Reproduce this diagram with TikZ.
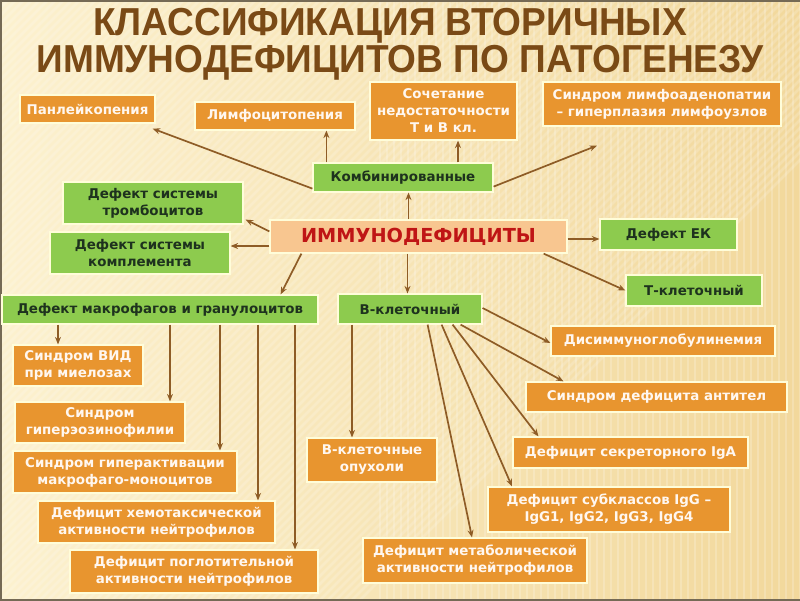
\documentclass[tikz,border=0pt]{standalone}
\usepackage{fontspec}
\setmainfont{DejaVu Sans}
\newfontfamily\titlefont[FakeStretch=0.95]{Liberation Sans}
\usetikzlibrary{arrows.meta, positioning, calc}
\definecolor{bgleft}{HTML}{FCF1CF}
\definecolor{bgright}{HTML}{F2D89C}
\definecolor{titlebrown}{HTML}{7A4A16}
\definecolor{orangebox}{HTML}{E8952F}
\definecolor{greenbox}{HTML}{8DCB4E}
\definecolor{mainbox}{HTML}{F8C690}
\definecolor{mainred}{HTML}{BF1515}
\definecolor{arrowc}{HTML}{8E5C26}
\definecolor{greentext}{HTML}{1E321E}
\definecolor{framec}{HTML}{756A55}

\begin{document}
\begin{tikzpicture}[x=1pt, y=-1pt, >={Stealth[length=7.5pt, width=6pt]}]

		% Define block styles
		\tikzstyle{cause} = [rectangle, draw=white!85!yellow, line width=1.2pt, fill=orangebox, text=white!94!orange, font=\bfseries\fontsize{13.4}{17}\selectfont, align=center, inner sep=0pt]
		\tikzstyle{kind} = [rectangle, draw=white!85!yellow, line width=1.2pt, fill=greenbox, text=greentext, font=\bfseries\fontsize{13.4}{17}\selectfont, align=center, inner sep=0pt]
		\tikzstyle{root} = [rectangle, draw=white!85!yellow, line width=1.2pt, fill=mainbox, text=mainred, font=\bfseries\fontsize{19.3}{24}\selectfont, inner sep=0pt]
		\tikzstyle{heading} = [text=titlebrown, font=\titlefont\bfseries\fontsize{39}{39}\selectfont, inner sep=0pt, text height=28pt, text depth=0pt]
		\tikzstyle{link} = [->, draw=arrowc, line width=1.7pt]

		% Background
		\useasboundingbox (0,0) rectangle (800,600);
		\shade[left color=bgleft, right color=bgright] (0,0) rectangle (800,600);
		\begin{scope}
			\clip (0,0) rectangle (800,600);
			\foreach \x in {-600,-592,...,360}
				\draw[white, opacity=0.18, line width=2.5pt] (\x,600) -- (\x+600,0);
			\foreach \x in {380,387,...,800}
				\draw[white, opacity=0.2, line width=2.5pt] (\x,0) -- (\x,600);
		\end{scope}
		\draw[framec, line width=3pt] (800,0) -- (0,0) -- (0,600) -- (800,600);

		% Title
		\node[heading] (title1) at (390,21.5) {КЛАССИФИКАЦИЯ ВТОРИЧНЫХ};
		\node[heading] (title2) at (400,58) {ИММУНОДЕФИЦИТОВ ПО ПАТОГЕНЕЗУ};

		% Nodes
		\node[root, minimum width=297pt, minimum height=33pt] (immuno) at (418.5,236.5) {ИММУНОДЕФИЦИТЫ};
		\node[kind, minimum width=180pt, minimum height=29pt] (combined) at (403,177.5) {Комбинированные};
		\node[cause, minimum width=135pt, minimum height=28pt] (panleuco) at (87.5,109) {Панлейкопения};
		\node[cause, minimum width=160pt, minimum height=28pt] (lympho) at (275,116) {Лимфоцитопения};
		\node[cause, minimum width=147pt, minimum height=58pt] (tbcells) at (443.5,111) {Сочетание\\недостаточности\\Т и В кл.};
		\node[cause, minimum width=238pt, minimum height=44pt] (lymphaden) at (662,104) {Синдром лимфоаденопатии\\– гиперплазия лимфоузлов};
		\node[kind, minimum width=180pt, minimum height=42pt] (thrombo) at (153,203) {Дефект системы\\тромбоцитов};
		\node[kind, minimum width=180pt, minimum height=42pt] (complement) at (140,253) {Дефект системы\\комплемента};
		\node[kind, minimum width=137pt, minimum height=31pt] (nkcell) at (668.5,234.5) {Дефект ЕК};
		\node[kind, minimum width=136pt, minimum height=31pt] (tcell) at (694,290.5) {Т-клеточный};
		\node[kind, minimum width=316pt, minimum height=29pt] (macro) at (160,309.5) {Дефект макрофагов и гранулоцитов};
		\node[kind, minimum width=144pt, minimum height=30pt] (bcell) at (410,309) {В-клеточный};

		\node[cause, minimum width=130pt, minimum height=41pt] (vid) at (78,365.5) {Синдром ВИД\\при миелозах};
		\node[cause, minimum width=170pt, minimum height=41pt] (eosino) at (100,422.5) {Синдром\\гиперэозинофилии};
		\node[cause, minimum width=224pt, minimum height=42pt] (hyperact) at (125,472) {Синдром гиперактивации\\макрофаго-моноцитов};
		\node[cause, minimum width=237pt, minimum height=42pt] (chemo) at (156.5,522) {Дефицит хемотаксической\\активности нейтрофилов};
		\node[cause, minimum width=248pt, minimum height=43pt] (phago) at (194,571.5) {Дефицит поглотительной\\активности нейтрофилов};

		\node[cause, minimum width=130pt, minimum height=44pt] (btumor) at (372,460) {В-клеточные\\опухоли};
		\node[cause, minimum width=224pt, minimum height=30pt] (dysimm) at (663,341) {Дисиммуноглобулинемия};
		\node[cause, minimum width=261pt, minimum height=30pt] (antibody) at (656.5,397) {Синдром дефицита антител};
		\node[cause, minimum width=235pt, minimum height=31pt] (siga) at (630.5,452.5) {Дефицит секреторного IgA};
		\node[cause, minimum width=242pt, minimum height=45pt] (igg) at (609,509.5) {Дефицит субклассов IgG –\\IgG1, IgG2, IgG3, IgG4};
		\node[cause, minimum width=224pt, minimum height=45pt] (metab) at (475,560.5) {Дефицит метаболической\\активности нейтрофилов};

		% Arrows
		\draw[link] ([yshift=4pt]combined.south west) -- ([shift={(-3pt,-5pt)}]panleuco.south east);
		\draw[link] ([xshift=14pt]combined.north west) -- ([xshift=14pt]combined.north west |- lympho.south);
		\draw[link] ([xshift=55pt]combined.north) -- ([xshift=55pt]combined.north |- tbcells.south);
		\draw[link] ([yshift=6pt]combined.south east) -- ([shift={(-65pt,-19pt)}]lymphaden.south);

		\draw[link] ([xshift=-10pt]immuno.north) -- ([xshift=-10pt]immuno.north |- combined.south);
		\draw[link] ([yshift=-12pt]immuno.north west) -- ([shift={(2pt,5pt)}]thrombo.south east);
		\draw[link] ([yshift=-9.5pt]immuno.west) -- ([yshift=-9.5pt]immuno.west -| complement.east);
		\draw[link] ([xshift=32pt]immuno.south west) -- ([xshift=-38pt]macro.north east);
		\draw[link] ([xshift=-11pt]immuno.south) -- ([xshift=-11pt]immuno.south |- bcell.north);
		\draw[link] ([yshift=-2.5pt]immuno.east) -- ([yshift=-2.5pt]immuno.east -| nkcell.west);
		\draw[link] ([xshift=-24pt]immuno.south east) -- (tcell.west);

		\draw[link] ([yshift=1pt]bcell.east) -- ([yshift=-2pt]dysimm.west);
		\draw[link] ([xshift=-22pt]bcell.south east) -- ([xshift=-93pt]antibody.north);
		\draw[link] ([xshift=-30pt]bcell.south east) -- ([xshift=-92pt]siga.north);
		\draw[link] ([xshift=-41pt]bcell.south east) -- ([xshift=-97pt]igg.north);
		\draw[link] ([xshift=-55pt]bcell.south east) -- ([xshift=-3pt]metab.north);
		\draw[link] ([xshift=-20pt]btumor.north |- bcell.south) -- ([xshift=-20pt]btumor.north);

		\draw[link] ([xshift=-20pt]vid.north |- macro.south) -- ([xshift=-20pt]vid.north);
		\draw[link] ([xshift=70pt]eosino.north |- macro.south) -- ([xshift=70pt]eosino.north);
		\draw[link] ([xshift=95pt]hyperact.north |- macro.south) -- ([xshift=95pt]hyperact.north);
		\draw[link] ([xshift=101.5pt]chemo.north |- macro.south) -- ([xshift=101.5pt]chemo.north);
		\draw[link] ([xshift=101pt]phago.north |- macro.south) -- ([xshift=101pt]phago.north);

	\end{tikzpicture}
\end{document}
